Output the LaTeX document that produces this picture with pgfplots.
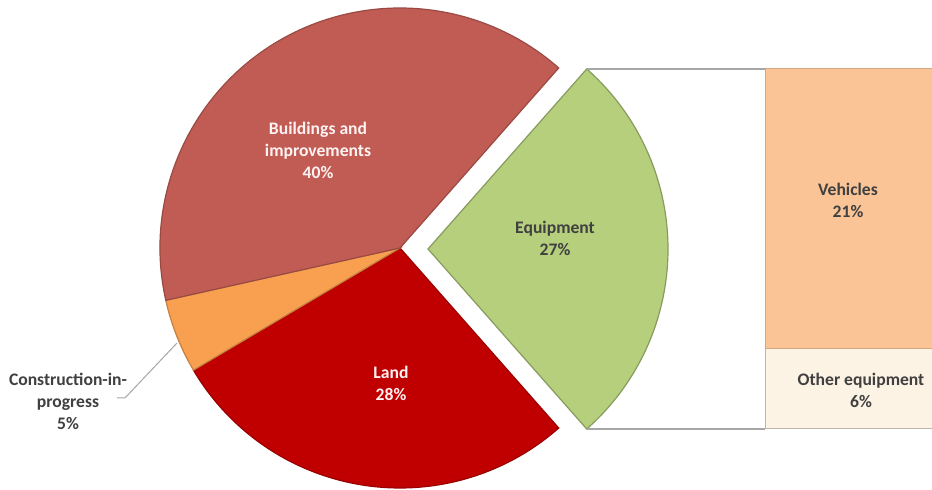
\documentclass[border=0pt]{standalone}
\usepackage{pgfplots}
\pgfplotsset{compat=1.18}
\usepackage{fontspec}
\setmainfont{Carlito}

% shares in percent
\def\pBuild{40}
\def\pConstr{5}
\def\pLand{28}
\def\pEquip{27}
\def\pVehic{21}
\def\pOther{6}

\definecolor{cBuild}{RGB}{192,92,84}
\definecolor{cConstr}{RGB}{248,160,80}
\definecolor{cLand}{RGB}{192,0,0}
\definecolor{cEquip}{RGB}{181,207,125}
\definecolor{cVehic}{RGB}{250,196,150}
\definecolor{cOther}{RGB}{253,243,228}
\definecolor{txt}{RGB}{64,64,64}
\definecolor{leader}{RGB}{166,166,166}

\begin{document}
\begin{tikzpicture}
\begin{axis}[
    scale only axis, width=932bp, height=490bp,
    xmin=0, xmax=932, ymin=0, ymax=490,
    enlargelimits=false, hide axis, clip=true,
]
  \fill[white] (axis cs:0,0) rectangle (axis cs:932,490);

  % angles: Equipment centred on 0 deg, the rest going clockwise
  \pgfmathsetmacro{\aA}{\pEquip*1.8}          % 48.6
  \pgfmathsetmacro{\aB}{-\aA}                 % start of Land
  \pgfmathsetmacro{\aC}{\aB-\pLand*3.6}       % end of Land
  \pgfmathsetmacro{\aD}{\aC-\pConstr*3.6}     % end of Construction
  \pgfmathsetmacro{\aE}{\aD-\pBuild*3.6}      % end of Buildings
  \def\R{240bp}

  % main pie
  \filldraw[fill=cLand, draw=cLand!80!black, line width=1.2bp]
    (axis cs:400,242) -- ++(\aB:\R) arc[start angle=\aB, end angle=\aC, radius=\R] -- cycle;
  \filldraw[fill=cConstr, draw=cConstr!80!black, line width=1.2bp]
    (axis cs:400,242) -- ++(\aC:\R) arc[start angle=\aC, end angle=\aD, radius=\R] -- cycle;
  \filldraw[fill=cBuild, draw=cBuild!80!black, line width=1.2bp]
    (axis cs:400,242) -- ++(\aD:\R) arc[start angle=\aD, end angle=\aE, radius=\R] -- cycle;

  % exploded Equipment slice
  \filldraw[fill=cEquip, draw=cEquip!75!black, line width=1.2bp]
    (axis cs:428,241) -- ++(\aA:\R) arc[start angle=\aA, end angle=\aB, radius=\R] -- cycle;

  % connector lines
  \draw[leader, line width=1.2bp] (axis cs:587,421) -- (axis cs:765,421);
  \draw[leader, line width=1.2bp] (axis cs:587,61) -- (axis cs:765,61);

  % stacked bar of Equipment
  \pgfmathsetmacro{\ySplit}{61+360*\pOther/\pEquip}
  \filldraw[fill=cOther, draw=cOther!75!black, line width=1bp]
    (axis cs:765,61) rectangle (axis cs:940,\ySplit);
  \filldraw[fill=cVehic, draw=cVehic!85!black, line width=1bp]
    (axis cs:765,\ySplit) rectangle (axis cs:940,421);

  % leader line for Construction
  \draw[leader, line width=1bp] (axis cs:117,92) -- (axis cs:125,92) -- (axis cs:177,147);

  % labels
  \begin{scope}[font=\fontsize{17.6bp}{22bp}\selectfont\bfseries, align=center]
    \node[white!95!red] at (axis cs:318,340) {Buildings and\\improvements\\\pBuild\%};
    \node[white!95!red] at (axis cs:391,107) {Land\\\pLand\%};
    \node[txt] at (axis cs:555,252) {Equipment\\\pEquip\%};
    \node[txt] at (axis cs:848,290) {Vehicles\\\pVehic\%};
    \node[txt] at (axis cs:861,100) {Other equipment\\\pOther\%};
    \node[txt] at (axis cs:68,89) {Construction-in-\\progress\\\pConstr\%};
  \end{scope}
\end{axis}
\end{tikzpicture}
\end{document}
